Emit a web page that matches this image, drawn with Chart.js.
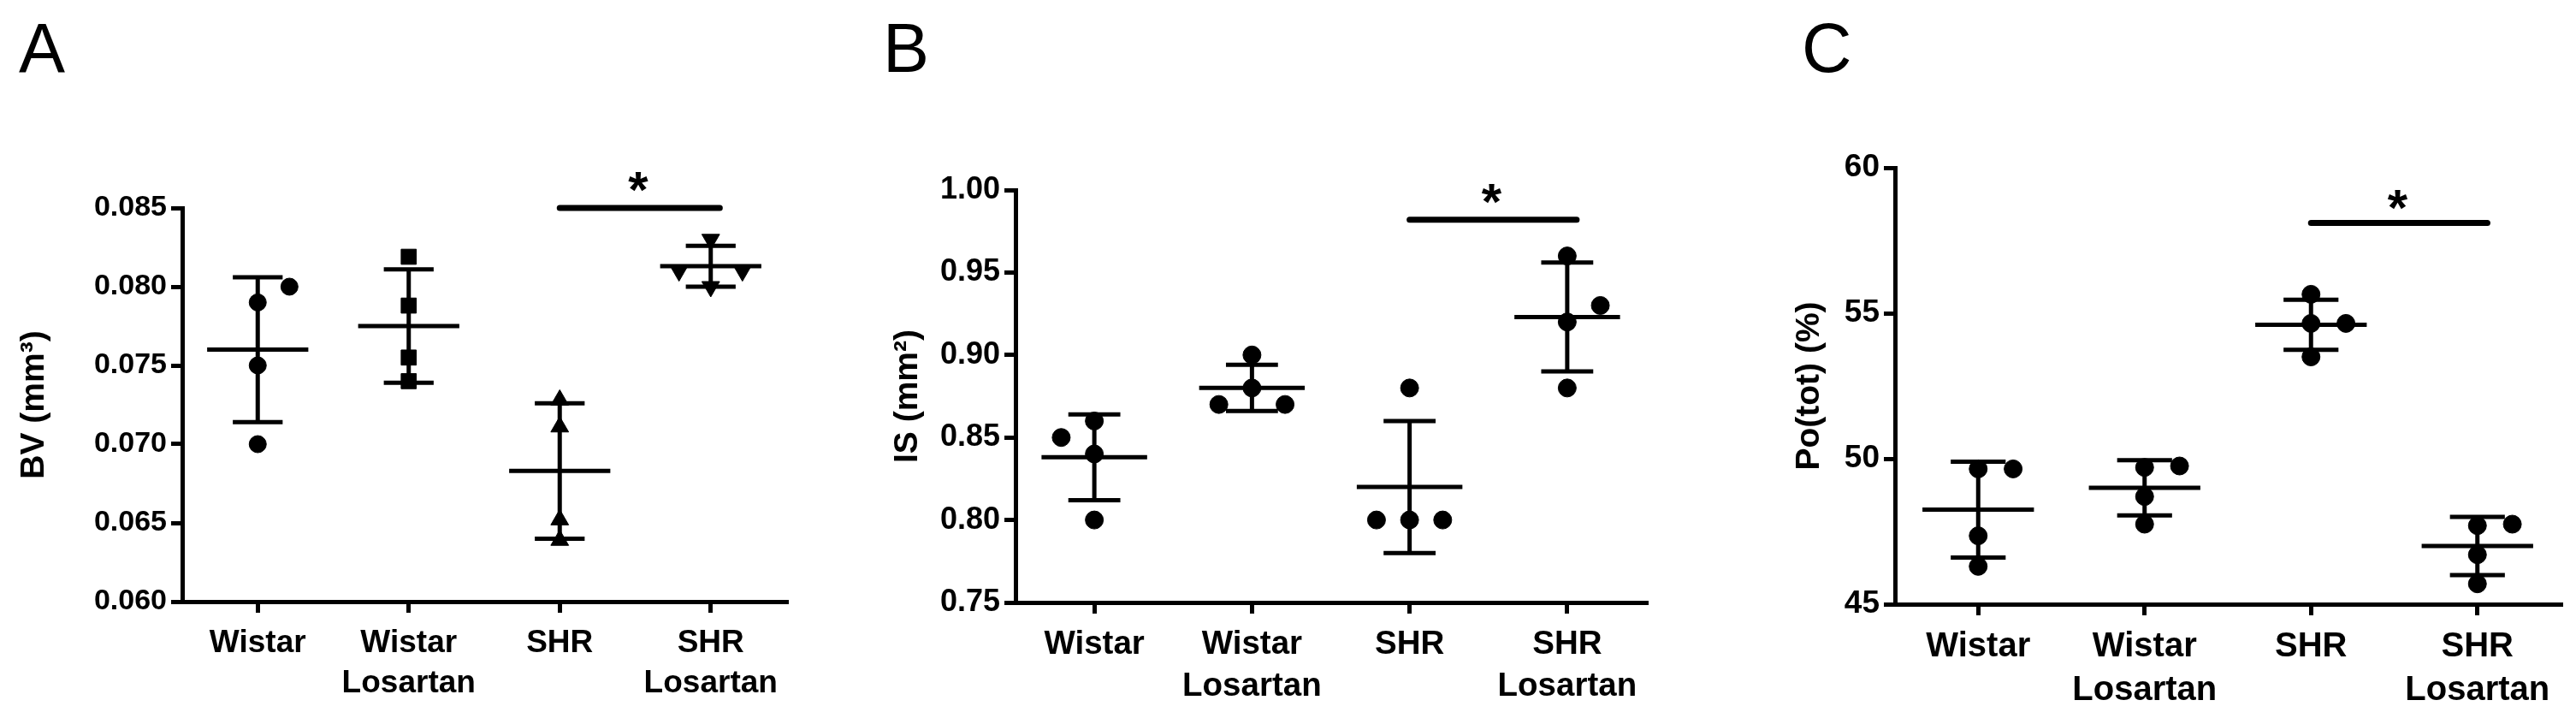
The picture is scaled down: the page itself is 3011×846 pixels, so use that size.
<!DOCTYPE html>
<html>
<head>
<meta charset="utf-8">
<script src="https://cdn.jsdelivr.net/npm/chart.js@4.4.1/dist/chart.umd.min.js"></script>
<style>
  body { margin: 0; background: #fff; width: 3011px; height: 846px; overflow: hidden; position: relative; }
  canvas { position: absolute; top: 0; }
  .letter { position: absolute; top: 16px; font-family: "Liberation Sans", Arial, sans-serif; font-size: 81px; line-height: 81px; color: #000; z-index: 2; }
</style>
</head>
<body>
<canvas id="chartA" width="1003" height="846" style="left:0px"></canvas>
<canvas id="chartB" width="1004" height="846" style="left:1003px"></canvas>
<canvas id="chartC" width="1004" height="846" style="left:2007px"></canvas>
<div class="letter" style="left:22px">A</div>
<div class="letter" style="left:1032px">B</div>
<div class="letter" style="left:2106px">C</div>
<script>
// groups on the x axis
const categories = ["Wistar", "Wistar Losartan", "SHR", "SHR Losartan"];

// A - BV (mm3), one value per animal
const bvWistar = [0.0790, 0.0750, 0.0700, 0.0800];
const bvWistarLos = [0.0819, 0.0788, 0.0755, 0.0740];
const bvShr = [0.0728, 0.0711, 0.0652, 0.0639];
const bvShrLos = [0.0830, 0.0810, 0.0810, 0.0800];
const bvMean = [0.0760, 0.0775, 0.0683, 0.0813];
const bvSd = [0.0046, 0.0036, 0.0043, 0.0013];
const bvTicks = [0.060, 0.065, 0.070, 0.075, 0.080, 0.085];
const bvSig = 0.085;

// B - IS (mm2)
const isWistar = [0.85, 0.86, 0.84, 0.80];
const isWistarLos = [0.90, 0.88, 0.87, 0.87];
const isShr = [0.88, 0.80, 0.80, 0.80];
const isShrLos = [0.96, 0.93, 0.92, 0.88];
const isMean = [0.838, 0.880, 0.820, 0.923];
const isSd = [0.026, 0.014, 0.040, 0.033];
const isTicks = [0.75, 0.80, 0.85, 0.90, 0.95, 1.00];
const isSig = 0.982;

// C - Po(tot) (%)
const poWistar = [49.65, 49.65, 47.35, 46.3];
const poWistarLos = [49.7, 49.75, 48.7, 47.75];
const poShr = [55.65, 54.65, 54.65, 53.5];
const poShrLos = [47.7, 47.75, 46.7, 45.7];
const poMean = [48.25, 49.0, 54.6, 47.0];
const poSd = [1.65, 0.95, 0.86, 1.0];
const poTicks = [45, 50, 55, 60];
const poSig = 58.1;

// sideways shift of points that overlap (in group widths)
const bvSpread = [[0, 0, 0, 0.21], [0, 0, 0, 0], [0, 0, 0, 0], [0, -0.21, 0.21, 0]];
const isSpread = [[-0.21, 0, 0, 0], [0, 0, -0.21, 0.21], [0, -0.21, 0, 0.21], [0, 0.21, 0, 0]];
const poSpread = [[0, 0.21, 0, 0], [0, 0.21, 0, 0], [0, 0, 0.21, 0], [0, 0.21, 0, 0]];

const FONT = "'Liberation Sans', Arial, sans-serif";
const meanHalf = 0.335;
const capHalf = 0.165;

// star above the significance bar
const starPlugin = {
    id: "sigStar",
    afterDatasetsDraw(chart, args, opts) {
        const ctx = chart.ctx;
        const px = chart.scales.x.getPixelForValue(opts.x);
        const py = chart.scales.y.getPixelForValue(opts.y);
        ctx.save();
        ctx.fillStyle = "#000";
        ctx.font = "bold 60px " + FONT;
        ctx.textAlign = "center";
        ctx.textBaseline = "alphabetic";
        ctx.fillText("*", px, py + opts.lift);
        ctx.restore();
    }
};

function makeChart(id, p) {
    const datasets = [];

    // mean line + SD bars, one line broken with nulls
    const seg = [];
    p.mean.forEach(function (m, g) {
        const hi = m + p.sd[g];
        const lo = m - p.sd[g];
        seg.push({x: g, y: lo}, {x: g, y: hi}, {x: g, y: null});
        seg.push({x: g - capHalf, y: hi}, {x: g + capHalf, y: hi}, {x: g, y: null});
        seg.push({x: g - capHalf, y: lo}, {x: g + capHalf, y: lo}, {x: g, y: null});
        seg.push({x: g - meanHalf, y: m}, {x: g + meanHalf, y: m}, {x: g, y: null});
    });
    datasets.push({
        data: seg, showLine: true, spanGaps: false, borderColor: "#000", borderWidth: 5,
        borderCapStyle: "butt", pointRadius: 0, order: 2, clip: false
    });

    // significance bar SHR vs SHR Losartan
    datasets.push({
        data: [{x: 2.0, y: p.sig}, {x: 3.06, y: p.sig}], showLine: true, borderColor: "#000",
        borderWidth: 7, borderCapStyle: "round", pointRadius: 0, order: 2, clip: false
    });

    // the animals
    p.groups.forEach(function (vals, g) {
        datasets.push({
            data: vals.map(function (v, k) { return {x: g + p.spread[g][k], y: v}; }),
            pointStyle: p.marks[g], pointRotation: p.rot[g], pointRadius: p.size[g],
            backgroundColor: "#000", borderColor: "#000", borderWidth: 1, order: 1, clip: false
        });
    });

    new Chart(document.getElementById(id), {
        type: "scatter",
        data: { datasets: datasets },
        plugins: [starPlugin],
        options: {
            responsive: false,
            devicePixelRatio: 1,
            animation: false,
            events: [],
            layout: { padding: { top: p.top, right: p.right, left: 0, bottom: 0 } },
            plugins: {
                legend: { display: false },
                tooltip: { enabled: false },
                sigStar: { x: 2.52, y: p.sig, lift: p.lift }
            },
            scales: {
                x: {
                    type: "linear", min: -0.5, max: 3.5,
                    afterBuildTicks: function (s) { s.ticks = categories.map(function (c, i) { return {value: i}; }); },
                    afterFit: function (s) { s.height = p.xh; },
                    ticks: {
                        autoSkip: false, maxRotation: 0, color: "#000", padding: 12,
                        font: { family: FONT, size: p.catSize, weight: "bold", lineHeight: 1.27 },
                        callback: function (v) { return categories[v] ? categories[v].split(" ") : ""; }
                    },
                    grid: { drawOnChartArea: false, drawTicks: true, tickLength: 13, tickWidth: 5, lineWidth: 5, color: "#000", tickColor: "#000" },
                    border: { display: true, color: "#000", width: 5 }
                },
                y: {
                    type: "linear", min: p.ticks[0], max: p.ticks[p.ticks.length - 1],
                    afterBuildTicks: function (s) { s.ticks = p.ticks.map(function (v) { return {value: v}; }); },
                    afterFit: function (s) { s.width = p.yw; },
                    ticks: {
                        color: "#000", padding: 5,
                        font: { family: FONT, size: p.tickSize, weight: "bold" },
                        callback: function (v) { return v.toFixed(p.dec); }
                    },
                    grid: { drawOnChartArea: false, drawTicks: true, tickLength: 13, tickWidth: 5, lineWidth: 5, color: "#000", tickColor: "#000" },
                    border: { display: true, color: "#000", width: 5 },
                    title: {
                        display: true, text: p.title, color: "#000",
                        font: { family: FONT, size: 39, weight: "bold", lineHeight: 1.2 },
                        padding: { top: p.titlePad, bottom: 0 }
                    }
                }
            }
        }
    });
}

makeChart("chartA", {
    groups: [bvWistar, bvWistarLos, bvShr, bvShrLos], spread: bvSpread,
    mean: bvMean, sd: bvSd, ticks: bvTicks, dec: 3, sig: bvSig, title: "BV (mm³)",
    marks: ["circle", "rect", "triangle", "triangle"], rot: [0, 0, 0, 180], size: [10, 12.5, 12, 12],
    top: 243, right: 84, yw: 213, xh: 143, titlePad: 17, catSize: 37, tickSize: 34, lift: -1
});

makeChart("chartB", {
    groups: [isWistar, isWistarLos, isShr, isShrLos], spread: isSpread,
    mean: isMean, sd: isSd, ticks: isTicks, dec: 2, sig: isSig, title: "IS (mm²)",
    marks: ["circle", "circle", "circle", "circle"], rot: [0, 0, 0, 0], size: [10.5, 10.5, 10.5, 10.5],
    top: 222, right: 83, yw: 184, xh: 142, titlePad: 35, catSize: 38.5, tickSize: 36, lift: -1
});

makeChart("chartC", {
    groups: [poWistar, poWistarLos, poShr, poShrLos], spread: poSpread,
    mean: poMean, sd: poSd, ticks: poTicks, dec: 0, sig: poSig, title: "Po(tot) (%)",
    marks: ["circle", "circle", "circle", "circle"], rot: [0, 0, 0, 0], size: [10.5, 10.5, 10.5, 10.5],
    top: 196, right: 18, yw: 208, xh: 140, titlePad: 85, catSize: 40, tickSize: 37, lift: 2
});
</script>
</body>
</html>
